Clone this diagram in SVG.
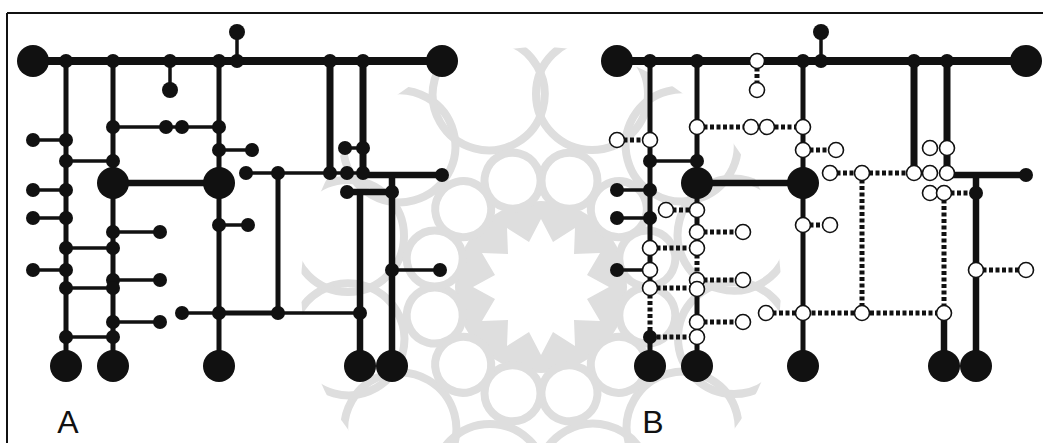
<svg xmlns="http://www.w3.org/2000/svg" xmlns:xlink="http://www.w3.org/1999/xlink" width="1043" height="443" viewBox="0 0 1043 443">
<style>
.wm{fill:#fff;stroke:#dedede;stroke-width:8}
.c line{stroke:#111;stroke-linecap:butt}
.tl{stroke-width:8}
.v{stroke-width:5}
.vt{stroke-width:7}
.h{stroke-width:3.5}
.ht{stroke-width:6.5}
.d{stroke-width:5;stroke-dasharray:4 2.5}
.n{fill:#111}
.o{fill:#fff;stroke:#111;stroke-width:1.6}
.lbl{font-family:"Liberation Sans",Arial,sans-serif;font-size:32px;fill:#111}
</style>
<defs>
<clipPath id="wmclip"><circle cx="541" cy="287" r="240"/></clipPath>
<g id="unit">
<circle class="wm" cx="592" cy="94" r="56" style="fill:none"/>
</g>
<g id="unit2">
<circle class="wm" cx="569.5" cy="180.7" r="28"/>
</g>
</defs>
<rect width="1043" height="443" fill="#fff"/>
<g id="watermark" clip-path="url(#wmclip)">
<use xlink:href="#unit" transform="rotate(0 541 287)"/>
<use xlink:href="#unit" transform="rotate(30 541 287)"/>
<use xlink:href="#unit" transform="rotate(60 541 287)"/>
<use xlink:href="#unit" transform="rotate(90 541 287)"/>
<use xlink:href="#unit" transform="rotate(120 541 287)"/>
<use xlink:href="#unit" transform="rotate(150 541 287)"/>
<use xlink:href="#unit" transform="rotate(180 541 287)"/>
<use xlink:href="#unit" transform="rotate(210 541 287)"/>
<use xlink:href="#unit" transform="rotate(240 541 287)"/>
<use xlink:href="#unit" transform="rotate(270 541 287)"/>
<use xlink:href="#unit" transform="rotate(300 541 287)"/>
<use xlink:href="#unit" transform="rotate(330 541 287)"/>
<circle cx="541" cy="287" r="86" fill="#dedede"/>
<use xlink:href="#unit2" transform="rotate(0 541 287)"/>
<use xlink:href="#unit2" transform="rotate(30 541 287)"/>
<use xlink:href="#unit2" transform="rotate(60 541 287)"/>
<use xlink:href="#unit2" transform="rotate(90 541 287)"/>
<use xlink:href="#unit2" transform="rotate(120 541 287)"/>
<use xlink:href="#unit2" transform="rotate(150 541 287)"/>
<use xlink:href="#unit2" transform="rotate(180 541 287)"/>
<use xlink:href="#unit2" transform="rotate(210 541 287)"/>
<use xlink:href="#unit2" transform="rotate(240 541 287)"/>
<use xlink:href="#unit2" transform="rotate(270 541 287)"/>
<use xlink:href="#unit2" transform="rotate(300 541 287)"/>
<use xlink:href="#unit2" transform="rotate(330 541 287)"/>
<polygon fill="#fff" points="541,219 553,242 575,228 574,254 600,253 587,275 609,287 587,299 600,321 574,320 575,346 553,332 541,355 529,332 507,346 508,320 482,321 495,299 473,287 495,275 482,253 508,254 507,228 529,242"/>
</g>
<g id="frame" fill="none" stroke="#111" stroke-width="2">
<line x1="7" y1="13" x2="1043" y2="13"/>
<line x1="7" y1="13" x2="7" y2="443"/>
</g>

<g id="connectors" class="c">
<!-- Panel A -->
<line class="tl" x1="33" y1="61" x2="442" y2="61"/>
<line class="h" x1="237" y1="32" x2="237" y2="61"/>
<line class="h" x1="170" y1="61" x2="170" y2="90"/>
<line class="v" x1="66" y1="61" x2="66" y2="366"/>
<line class="v" x1="113" y1="61" x2="113" y2="366"/>
<line class="v" x1="219" y1="61" x2="219" y2="366"/>
<line class="vt" x1="330" y1="61" x2="330" y2="173"/>
<line class="vt" x1="363" y1="61" x2="363" y2="175"/>
<line class="v" x1="278" y1="173" x2="278" y2="313"/>
<line class="ht" x1="360" y1="192" x2="360" y2="366"/>
<line class="ht" x1="392" y1="175" x2="392" y2="366"/>
<line class="h" x1="113" y1="127" x2="219" y2="127"/>
<line class="h" x1="33" y1="140" x2="66" y2="140"/>
<line class="h" x1="219" y1="150" x2="252" y2="150"/>
<line class="h" x1="66" y1="161" x2="113" y2="161"/>
<line class="ht" x1="113" y1="183" x2="219" y2="183"/>
<line class="h" x1="246" y1="173" x2="363" y2="173"/>
<line class="ht" x1="363" y1="175" x2="442" y2="175"/>
<line class="h" x1="345" y1="148" x2="363" y2="148"/>
<line class="h" x1="33" y1="190" x2="66" y2="190"/>
<line class="ht" x1="347" y1="192" x2="392" y2="192"/>
<line class="h" x1="33" y1="218" x2="66" y2="218"/>
<line class="h" x1="219" y1="225" x2="248" y2="225"/>
<line class="h" x1="113" y1="232" x2="160" y2="232"/>
<line class="h" x1="66" y1="248" x2="113" y2="248"/>
<line class="h" x1="33" y1="270" x2="66" y2="270"/>
<line class="h" x1="392" y1="270" x2="440" y2="270"/>
<line class="h" x1="113" y1="280" x2="160" y2="280"/>
<line class="h" x1="66" y1="288" x2="113" y2="288"/>
<line class="h" x1="182" y1="313" x2="219" y2="313"/>
<line class="v" x1="219" y1="313" x2="278" y2="313"/>
<line class="h" x1="278" y1="313" x2="360" y2="313"/>
<line class="h" x1="113" y1="322" x2="160" y2="322"/>
<line class="h" x1="66" y1="337" x2="113" y2="337"/>
<!-- Panel B -->
<line class="tl" x1="617" y1="61" x2="1026" y2="61"/>
<line class="h" x1="821" y1="32" x2="821" y2="61"/>
<line class="d" x1="757" y1="61" x2="757" y2="90"/>
<line class="v" x1="650" y1="61" x2="650" y2="288"/>
<line class="d" x1="650" y1="288" x2="650" y2="337"/>
<line class="v" x1="650" y1="337" x2="650" y2="366"/>
<line class="v" x1="697" y1="61" x2="697" y2="248"/>
<line class="d" x1="697" y1="248" x2="697" y2="280"/>
<line class="v" x1="697" y1="288" x2="697" y2="366"/>
<line class="v" x1="803" y1="61" x2="803" y2="366"/>
<line class="vt" x1="914" y1="61" x2="914" y2="173"/>
<line class="vt" x1="947" y1="61" x2="947" y2="173"/>
<line class="d" x1="862" y1="173" x2="862" y2="313"/>
<line class="d" x1="944" y1="193" x2="944" y2="313"/>
<line class="ht" x1="944" y1="313" x2="944" y2="366"/>
<line class="ht" x1="976" y1="175" x2="976" y2="366"/>
<line class="d" x1="697" y1="127" x2="751" y2="127"/>
<line class="d" x1="768" y1="127" x2="803" y2="127"/>
<line class="d" x1="617" y1="140" x2="650" y2="140"/>
<line class="d" x1="803" y1="150" x2="836" y2="150"/>
<line class="h" x1="650" y1="161" x2="697" y2="161"/>
<line class="ht" x1="697" y1="183" x2="803" y2="183"/>
<line class="d" x1="830" y1="173" x2="914" y2="173"/>
<line class="ht" x1="947" y1="175" x2="1026" y2="175"/>
<line class="h" x1="617" y1="190" x2="650" y2="190"/>
<line class="d" x1="944" y1="193" x2="976" y2="193"/>
<line class="d" x1="666" y1="210" x2="697" y2="210"/>
<line class="h" x1="617" y1="218" x2="650" y2="218"/>
<line class="d" x1="803" y1="225" x2="830" y2="225"/>
<line class="d" x1="697" y1="232" x2="743" y2="232"/>
<line class="d" x1="650" y1="248" x2="697" y2="248"/>
<line class="h" x1="617" y1="270" x2="650" y2="270"/>
<line class="d" x1="976" y1="270" x2="1026" y2="270"/>
<line class="d" x1="697" y1="280" x2="743" y2="280"/>
<line class="d" x1="650" y1="288" x2="697" y2="288"/>
<line class="d" x1="766" y1="313" x2="944" y2="313"/>
<line class="d" x1="697" y1="322" x2="743" y2="322"/>
<line class="d" x1="650" y1="337" x2="697" y2="337"/>
</g>

<g id="nodesA">
<g id="a1"><circle class="n" cx="33" cy="61" r="16"/></g>
<g id="a2"><circle class="n" cx="442" cy="61" r="16"/></g>
<g id="a3"><circle class="n" cx="113" cy="183" r="16"/></g>
<g id="a4"><circle class="n" cx="219" cy="183" r="16"/></g>
<g id="a5"><circle class="n" cx="66" cy="366" r="16"/></g>
<g id="a6"><circle class="n" cx="113" cy="366" r="16"/></g>
<g id="a7"><circle class="n" cx="219" cy="366" r="16"/></g>
<g id="a8"><circle class="n" cx="360" cy="366" r="16"/></g>
<g id="a9"><circle class="n" cx="392" cy="366" r="16"/></g>
<g id="a10"><circle class="n" cx="66" cy="61" r="7"/></g>
<g id="a11"><circle class="n" cx="113" cy="61" r="7"/></g>
<g id="a12"><circle class="n" cx="170" cy="61" r="7"/></g>
<g id="a13"><circle class="n" cx="219" cy="61" r="7"/></g>
<g id="a14"><circle class="n" cx="237" cy="61" r="7"/></g>
<g id="a15"><circle class="n" cx="330" cy="61" r="7"/></g>
<g id="a16"><circle class="n" cx="363" cy="61" r="7"/></g>
<g id="a17"><circle class="n" cx="237" cy="32" r="8"/></g>
<g id="a18"><circle class="n" cx="170" cy="90" r="8"/></g>
<g id="a19"><circle class="n" cx="113" cy="127" r="7"/></g>
<g id="a20"><circle class="n" cx="166" cy="127" r="7"/></g>
<g id="a21"><circle class="n" cx="182" cy="127" r="7"/></g>
<g id="a22"><circle class="n" cx="219" cy="127" r="7"/></g>
<g id="a23"><circle class="n" cx="33" cy="140" r="7"/></g>
<g id="a24"><circle class="n" cx="66" cy="140" r="7"/></g>
<g id="a25"><circle class="n" cx="219" cy="150" r="7"/></g>
<g id="a26"><circle class="n" cx="252" cy="150" r="7"/></g>
<g id="a27"><circle class="n" cx="66" cy="161" r="7"/></g>
<g id="a28"><circle class="n" cx="113" cy="161" r="7"/></g>
<g id="a29"><circle class="n" cx="246" cy="173" r="7"/></g>
<g id="a30"><circle class="n" cx="278" cy="173" r="7"/></g>
<g id="a31"><circle class="n" cx="330" cy="173" r="7"/></g>
<g id="a32"><circle class="n" cx="347" cy="173" r="7"/></g>
<g id="a33"><circle class="n" cx="363" cy="173" r="7"/></g>
<g id="a34"><circle class="n" cx="442" cy="175" r="7"/></g>
<g id="a35"><circle class="n" cx="345" cy="148" r="7"/></g>
<g id="a36"><circle class="n" cx="363" cy="148" r="7"/></g>
<g id="a37"><circle class="n" cx="33" cy="190" r="7"/></g>
<g id="a38"><circle class="n" cx="66" cy="190" r="7"/></g>
<g id="a39"><circle class="n" cx="347" cy="192" r="7"/></g>
<g id="a40"><circle class="n" cx="392" cy="192" r="7"/></g>
<g id="a41"><circle class="n" cx="33" cy="218" r="7"/></g>
<g id="a42"><circle class="n" cx="66" cy="218" r="7"/></g>
<g id="a43"><circle class="n" cx="219" cy="225" r="7"/></g>
<g id="a44"><circle class="n" cx="248" cy="225" r="7"/></g>
<g id="a45"><circle class="n" cx="113" cy="232" r="7"/></g>
<g id="a46"><circle class="n" cx="160" cy="232" r="7"/></g>
<g id="a47"><circle class="n" cx="66" cy="248" r="7"/></g>
<g id="a48"><circle class="n" cx="113" cy="248" r="7"/></g>
<g id="a49"><circle class="n" cx="33" cy="270" r="7"/></g>
<g id="a50"><circle class="n" cx="66" cy="270" r="7"/></g>
<g id="a51"><circle class="n" cx="392" cy="270" r="7"/></g>
<g id="a52"><circle class="n" cx="440" cy="270" r="7"/></g>
<g id="a53"><circle class="n" cx="113" cy="280" r="7"/></g>
<g id="a54"><circle class="n" cx="160" cy="280" r="7"/></g>
<g id="a55"><circle class="n" cx="66" cy="288" r="7"/></g>
<g id="a56"><circle class="n" cx="113" cy="288" r="7"/></g>
<g id="a57"><circle class="n" cx="182" cy="313" r="7"/></g>
<g id="a58"><circle class="n" cx="219" cy="313" r="7"/></g>
<g id="a59"><circle class="n" cx="278" cy="313" r="7"/></g>
<g id="a60"><circle class="n" cx="360" cy="313" r="7"/></g>
<g id="a61"><circle class="n" cx="113" cy="322" r="7"/></g>
<g id="a62"><circle class="n" cx="160" cy="322" r="7"/></g>
<g id="a63"><circle class="n" cx="66" cy="337" r="7"/></g>
<g id="a64"><circle class="n" cx="113" cy="337" r="7"/></g>
</g>

<g id="nodesB">
<g id="b1"><circle class="n" cx="617" cy="61" r="16"/></g>
<g id="b2"><circle class="n" cx="1026" cy="61" r="16"/></g>
<g id="b3"><circle class="n" cx="697" cy="183" r="16"/></g>
<g id="b4"><circle class="n" cx="803" cy="183" r="16"/></g>
<g id="b5"><circle class="n" cx="650" cy="366" r="16"/></g>
<g id="b6"><circle class="n" cx="697" cy="366" r="16"/></g>
<g id="b7"><circle class="n" cx="803" cy="366" r="16"/></g>
<g id="b8"><circle class="n" cx="944" cy="366" r="16"/></g>
<g id="b9"><circle class="n" cx="976" cy="366" r="16"/></g>
<g id="b10"><circle class="n" cx="650" cy="61" r="7"/></g>
<g id="b11"><circle class="n" cx="697" cy="61" r="7"/></g>
<g id="b12"><circle class="n" cx="803" cy="61" r="7"/></g>
<g id="b13"><circle class="n" cx="821" cy="61" r="7"/></g>
<g id="b14"><circle class="n" cx="914" cy="61" r="7"/></g>
<g id="b15"><circle class="n" cx="947" cy="61" r="7"/></g>
<g id="b16"><circle class="n" cx="821" cy="32" r="8"/></g>
<g id="b17"><circle class="o" cx="757" cy="61" r="7.5"/></g>
<g id="b18"><circle class="o" cx="757" cy="90" r="7.5"/></g>
<g id="b19"><circle class="o" cx="697" cy="127" r="7.5"/></g>
<g id="b20"><circle class="o" cx="751" cy="127" r="7.5"/></g>
<g id="b21"><circle class="o" cx="767" cy="127" r="7.5"/></g>
<g id="b22"><circle class="o" cx="803" cy="127" r="7.5"/></g>
<g id="b23"><circle class="o" cx="617" cy="140" r="7.5"/></g>
<g id="b24"><circle class="o" cx="650" cy="140" r="7.5"/></g>
<g id="b25"><circle class="o" cx="803" cy="150" r="7.5"/></g>
<g id="b26"><circle class="o" cx="836" cy="150" r="7.5"/></g>
<g id="b27"><circle class="n" cx="650" cy="161" r="7"/></g>
<g id="b28"><circle class="n" cx="697" cy="161" r="7"/></g>
<g id="b29"><circle class="o" cx="830" cy="173" r="7.5"/></g>
<g id="b30"><circle class="o" cx="862" cy="173" r="7.5"/></g>
<g id="b31"><circle class="o" cx="914" cy="173" r="7.5"/></g>
<g id="b32"><circle class="o" cx="930" cy="173" r="7.5"/></g>
<g id="b33"><circle class="o" cx="947" cy="173" r="7.5"/></g>
<g id="b34"><circle class="n" cx="1026" cy="175" r="7"/></g>
<g id="b35"><circle class="o" cx="930" cy="148" r="7.5"/></g>
<g id="b36"><circle class="o" cx="947" cy="148" r="7.5"/></g>
<g id="b37"><circle class="n" cx="617" cy="190" r="7"/></g>
<g id="b38"><circle class="n" cx="650" cy="190" r="7"/></g>
<g id="b39"><circle class="o" cx="930" cy="193" r="7.5"/></g>
<g id="b40"><circle class="o" cx="944" cy="193" r="7.5"/></g>
<g id="b41"><circle class="n" cx="976" cy="193" r="7"/></g>
<g id="b42"><circle class="o" cx="666" cy="210" r="7.5"/></g>
<g id="b43"><circle class="o" cx="697" cy="210" r="7.5"/></g>
<g id="b44"><circle class="n" cx="617" cy="218" r="7"/></g>
<g id="b45"><circle class="n" cx="650" cy="218" r="7"/></g>
<g id="b46"><circle class="o" cx="803" cy="225" r="7.5"/></g>
<g id="b47"><circle class="o" cx="830" cy="225" r="7.5"/></g>
<g id="b48"><circle class="o" cx="697" cy="232" r="7.5"/></g>
<g id="b49"><circle class="o" cx="743" cy="232" r="7.5"/></g>
<g id="b50"><circle class="o" cx="650" cy="248" r="7.5"/></g>
<g id="b51"><circle class="o" cx="697" cy="248" r="7.5"/></g>
<g id="b52"><circle class="n" cx="617" cy="270" r="7"/></g>
<g id="b53"><circle class="o" cx="650" cy="270" r="7.5"/></g>
<g id="b54"><circle class="o" cx="976" cy="270" r="7.5"/></g>
<g id="b55"><circle class="o" cx="1026" cy="270" r="7.5"/></g>
<g id="b56"><circle class="o" cx="697" cy="280" r="7.5"/></g>
<g id="b57"><circle class="o" cx="743" cy="280" r="7.5"/></g>
<g id="b58"><circle class="o" cx="650" cy="288" r="7.5"/></g>
<g id="b59"><circle class="o" cx="697" cy="289" r="7.5"/></g>
<g id="b60"><circle class="o" cx="766" cy="313" r="7.5"/></g>
<g id="b61"><circle class="o" cx="803" cy="313" r="7.5"/></g>
<g id="b62"><circle class="o" cx="862" cy="313" r="7.5"/></g>
<g id="b63"><circle class="o" cx="944" cy="313" r="7.5"/></g>
<g id="b64"><circle class="o" cx="697" cy="322" r="7.5"/></g>
<g id="b65"><circle class="o" cx="743" cy="322" r="7.5"/></g>
<g id="b66"><circle class="n" cx="650" cy="337" r="7"/></g>
<g id="b67"><circle class="o" cx="697" cy="337" r="7.5"/></g>
</g>

<g id="labels">
<text class="lbl" x="68" y="433" text-anchor="middle">A</text>
<text class="lbl" x="653" y="433" text-anchor="middle">B</text>
</g>
</svg>
